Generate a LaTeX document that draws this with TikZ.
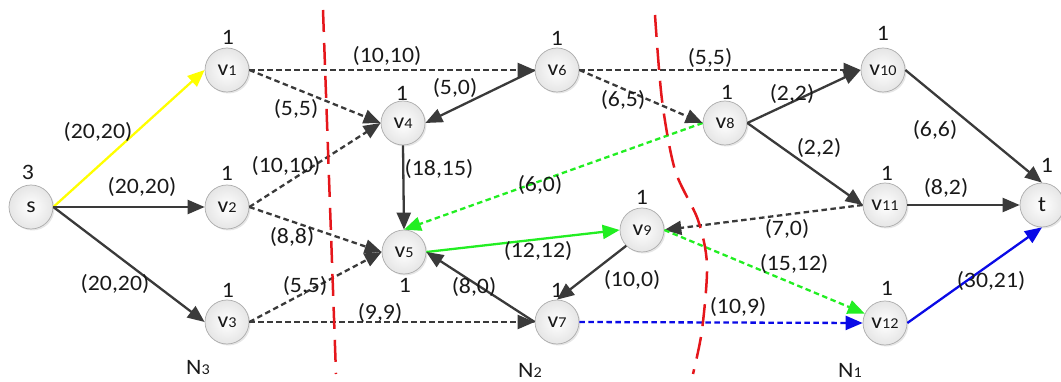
\documentclass[tikz,border=0pt]{standalone}
\usepackage{fontspec}
\setmainfont{Carlito}[FakeStretch=1.08]
\usetikzlibrary{arrows.meta,shadows}
\definecolor{edgegray}{HTML}{3A3A3A}
\definecolor{cutred}{HTML}{E5161B}
\definecolor{flowgreen}{HTML}{22EE22}
\definecolor{flowblue}{HTML}{0A0AE6}
\definecolor{flowyellow}{HTML}{FFFF00}
\newcommand\vn[1]{v{\fontsize{15}{15}\selectfont #1}}
\newcommand\nn[1]{N{\fontsize{15}{15}\selectfont #1}}
\begin{document}
\begin{tikzpicture}[x=1pt,y=-1pt,
  vnode/.style={circle, minimum size=44pt, inner sep=0pt, draw=gray!65, line width=0.7pt,
    inner color=white, outer color=gray!20,
    drop shadow={shadow xshift=1.5pt,shadow yshift=-1.5pt,opacity=0.2},
    font=\fontsize{22}{22}\selectfont, text=black!90},
  lab/.style={font=\fontsize{22}{22}\selectfont, inner sep=0pt, text=black!90},
  arr/.style={-{Triangle[length=17pt,width=14pt]}, line width=2.3pt},
  solidg/.style={arr, draw=edgegray},
  dashg/.style={arr, draw=edgegray, dash pattern=on 5.5pt off 3.5pt},
  dashgreen/.style={arr, draw=flowgreen, dash pattern=on 5.5pt off 3.5pt},
  dashblue/.style={arr, draw=flowblue, dash pattern=on 5.5pt off 3.5pt},
  cut/.style={draw=cutred, line width=2.5pt, dash pattern=on 22pt off 11pt}
]
\useasboundingbox (0,0) rectangle (1061,382);

% nodes
\node[vnode] (s)   at (31,207)   {s};
\node[vnode] (v1)  at (227,70)   {\vn{1}};
\node[vnode] (v2)  at (227,207)  {\vn{2}};
\node[vnode] (v3)  at (227,322)  {\vn{3}};
\node[vnode] (v4)  at (403,123)  {\vn{4}};
\node[vnode] (v5)  at (404,252)  {\vn{5}};
\node[vnode] (v6)  at (557,70)   {\vn{6}};
\node[vnode] (v7)  at (557,322)  {\vn{7}};
\node[vnode] (v8)  at (725,123)  {\vn{8}};
\node[vnode] (v9)  at (642,230)  {\vn{9}};
\node[vnode] (v10) at (883,70)   {\vn{10}};
\node[vnode] (v11) at (885,205)  {\vn{11}};
\node[vnode] (v12) at (885,323)  {\vn{12}};
\node[vnode] (t)   at (1042,205) {t};

% node numbers
\node[lab] (ns)   at (28,172)   {3};
\node[lab] (n1)   at (228,37)   {1};
\node[lab] (n2)   at (227,173)  {1};
\node[lab] (n3)   at (228,290)  {1};
\node[lab] (n4)   at (402,93)   {1};
\node[lab] (n5)   at (405,285)  {1};
\node[lab] (n6)   at (557,38)   {1};
\node[lab] (n7)   at (557,290)  {1};
\node[lab] (n8)   at (727,92)   {1};
\node[lab] (n9)   at (642,197)  {1};
\node[lab] (n10)  at (883,33)   {1};
\node[lab] (n11)  at (887,173)  {1};
\node[lab] (n12)  at (887,288)  {1};
\node[lab] (nt)   at (1047,165) {1};

% edges
\draw[arr, draw=flowyellow] (s.east) -- (v1.west);
\draw[solidg] (s.east) -- (v2.west);
\draw[solidg] (s.east) -- (v3.west);
\draw[dashg] (v1.east) -- (v6.west);
\draw[dashg] (v1.east) -- (v4.west);
\draw[dashg] (v2.east) -- (v4.west);
\draw[dashg] (v2.east) -- (v5.west);
\draw[dashg] (v3.east) -- (v5.west);
\draw[dashg] (v3.east) -- (v7.west);
\draw[solidg] (v6.west) -- (v4.east);
\draw[solidg] (v4.south) -- (v5.north);
\draw[dashgreen] (v8.west) -- (v5.north);
\draw[arr, draw=flowgreen] (v5.east) -- (v9.west);
\draw[solidg] (v7.west) -- (v5.east);
\draw[solidg] (v9.south west) -- (v7.north);
\draw[dashg] (v6.east) -- (v8.west);
\draw[dashg] (v6.east) -- (v10.west);
\draw[solidg] (v8.east) -- (v10.west);
\draw[solidg] (v8.east) -- (v11.west);
\draw[solidg] (v10.east) -- (t.north);
\draw[solidg] (v11.east) -- (t.west);
\draw[dashg] (v11.west) -- (v9.east);
\draw[dashgreen] (v9.east) -- (v12.155);
\draw[dashblue] (v7.east) -- (v12.west);
\draw[arr, draw=flowblue] (v12.east) -- (t.south);

% edge labels
\node[lab] (l1)  at (98,132)  {(20,20)};
\node[lab] (l2)  at (142,187) {(20,20)};
\node[lab] (l3)  at (115,284) {(20,20)};
\node[lab] (l4)  at (296,109) {(5,5)};
\node[lab] (l5)  at (286,166) {(10,10)};
\node[lab] (l6)  at (292,237) {(8,8)};
\node[lab] (l7)  at (305,286) {(5,5)};
\node[lab] (l8)  at (380,313) {(9,9)};
\node[lab] (l9)  at (387,56)  {(10,10)};
\node[lab] (l10) at (455,88)  {(5,0)};
\node[lab] (l11) at (439,169) {(18,15)};
\node[lab] (l12) at (540,185) {(6,0)};
\node[lab] (l13) at (538,251) {(12,12)};
\node[lab] (l14) at (474,287) {(8,0)};
\node[lab] (l15) at (632,280) {(10,0)};
\node[lab] (l16) at (623,100) {(6,5)};
\node[lab] (l17) at (710,58)  {(5,5)};
\node[lab] (l18) at (792,94)  {(2,2)};
\node[lab] (l19) at (819,148) {(2,2)};
\node[lab] (l20) at (935,130) {(6,6)};
\node[lab] (l21) at (946,188) {(8,2)};
\node[lab] (l22) at (787,229) {(7,0)};
\node[lab] (l23) at (794,264) {(15,12)};
\node[lab] (l24) at (738,307) {(10,9)};
\node[lab] (l25) at (991,281) {(30,21)};

% cut names
\node[lab] (N3) at (198,367) {\nn{3}};
\node[lab] (N2) at (530,370) {\nn{2}};
\node[lab] (N1) at (850,370) {\nn{1}};

% cut lines
\draw[cut] (323,10) -- (336,374);
\draw[cut] plot[smooth] coordinates {(655,15) (662,100) (675,170) (698,220) (707,265) (702,330) (693,374)};
\end{tikzpicture}
\end{document}
